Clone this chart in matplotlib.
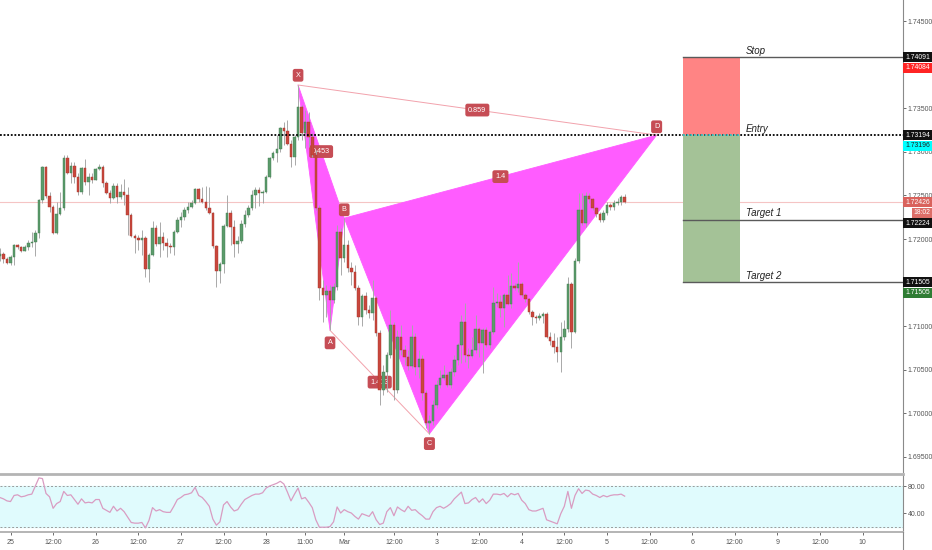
import numpy as np
import matplotlib
matplotlib.use("Agg")
import matplotlib.pyplot as plt
from matplotlib.patches import Polygon, Rectangle
from matplotlib.transforms import blended_transform_factory

plt.rcParams["font.family"] = ["Liberation Sans", "DejaVu Sans"]

# hourly candles, index 0 = 25 Feb 00:00 (weekend hours skipped)
first_hour = -3
first_open = 1.7180
closes = [
    1.7183, 1.7177, 1.7172, 1.7179, 1.7193, 1.7191, 1.7186, 1.7191, 1.7195, 1.7196,
    1.7207, 1.7245, 1.7283, 1.7249, 1.7237, 1.7207, 1.7229, 1.7236, 1.7293, 1.7276,
    1.7284, 1.7271, 1.7254, 1.7282, 1.7266, 1.7271, 1.7268, 1.7281, 1.7283, 1.7264,
    1.7253, 1.7247, 1.7261, 1.7248, 1.7254, 1.7251, 1.7228, 1.7203, 1.7201, 1.7199,
    1.7201, 1.7166, 1.7182, 1.7213, 1.7194, 1.7202, 1.7195, 1.7192, 1.7191, 1.7208,
    1.7222, 1.7225, 1.7233, 1.7237, 1.7241, 1.7257, 1.7246, 1.7243, 1.7236, 1.7230,
    1.7192, 1.7163, 1.7171, 1.7215, 1.7230, 1.7214, 1.7194, 1.7198, 1.7217, 1.7228,
    1.7236, 1.7251, 1.7256, 1.7253, 1.7254, 1.7271, 1.7293, 1.7299, 1.7303, 1.7328,
    1.7324, 1.7309, 1.7294, 1.7317, 1.7352, 1.7322, 1.7334, 1.7317, 1.7297, 1.7236,
    1.7144, 1.7136, 1.7140, 1.7130, 1.7145, 1.7208, 1.7178, 1.7193, 1.7167, 1.7162,
    1.7144, 1.7110, 1.7134, 1.7118, 1.7115, 1.7132, 1.7092, 1.7026, 1.7047, 1.7067,
    1.7101, 1.7026, 1.7087, 1.7072, 1.7064, 1.7054, 1.7087, 1.7053, 1.7062, 1.7023,
    1.6989, 1.6991, 1.7009, 1.7032, 1.7040, 1.7044, 1.7032, 1.7047, 1.7061, 1.7078,
    1.7105, 1.7067, 1.7066, 1.7072, 1.7097, 1.7080, 1.7095, 1.7078, 1.7093, 1.7126,
    1.7128, 1.7121, 1.7136, 1.7125, 1.7146, 1.7144, 1.7148, 1.7136, 1.7131, 1.7116,
    1.7110, 1.7109, 1.7111, 1.7114, 1.7087, 1.7083, 1.7076, 1.7070, 1.7087, 1.7097,
    1.7148, 1.7093, 1.7175, 1.7233, 1.7218, 1.7249, 1.7246, 1.7236, 1.7229, 1.7222,
    1.7230, 1.7239, 1.7237, 1.7241, 1.7242, 1.7248, 1.72426,
]
highs = [
    1.7190, 1.7185, 1.7179, 1.7182, 1.7194, 1.7194, 1.7192, 1.7193, 1.7199, 1.7208,
    1.7210, 1.7246, 1.7284, 1.7284, 1.7254, 1.7239, 1.7243, 1.7254, 1.7297, 1.7297,
    1.7289, 1.7289, 1.7276, 1.7283, 1.7292, 1.7276, 1.7276, 1.7282, 1.7286, 1.7285,
    1.7267, 1.7256, 1.7264, 1.7264, 1.7263, 1.7269, 1.7260, 1.7230, 1.7206, 1.7205,
    1.7210, 1.7203, 1.7184, 1.7221, 1.7216, 1.7220, 1.7208, 1.7201, 1.7195, 1.7210,
    1.7225, 1.7231, 1.7237, 1.7243, 1.7245, 1.7259, 1.7259, 1.7260, 1.7261, 1.7260,
    1.7231, 1.7193, 1.7174, 1.7217, 1.7251, 1.7233, 1.7222, 1.7203, 1.7222, 1.7233,
    1.7239, 1.7256, 1.7260, 1.7260, 1.7256, 1.7274, 1.7294, 1.7301, 1.7320, 1.7329,
    1.7334, 1.7337, 1.7314, 1.7320, 1.7377, 1.7354, 1.7348, 1.7346, 1.7322, 1.7302,
    1.7239, 1.7153, 1.7147, 1.7147, 1.7149, 1.7216, 1.7213, 1.7224, 1.7199, 1.7174,
    1.7170, 1.7147, 1.7137, 1.7139, 1.7124, 1.7153, 1.7134, 1.7095, 1.7055, 1.7070,
    1.7118, 1.7105, 1.7095, 1.7101, 1.7078, 1.7072, 1.7101, 1.7092, 1.7072, 1.7067,
    1.7026, 1.6998, 1.7015, 1.7038, 1.7049, 1.7055, 1.7047, 1.7052, 1.7067, 1.7080,
    1.7113, 1.7126, 1.7075, 1.7087, 1.7113, 1.7099, 1.7098, 1.7099, 1.7095, 1.7145,
    1.7138, 1.7136, 1.7138, 1.7159, 1.7161, 1.7149, 1.7174, 1.7151, 1.7138, 1.7132,
    1.7118, 1.7113, 1.7115, 1.7116, 1.7116, 1.7093, 1.7092, 1.7087, 1.7105, 1.7107,
    1.7156, 1.7151, 1.7178, 1.7253, 1.7253, 1.7254, 1.7253, 1.7247, 1.7237, 1.7231,
    1.7233, 1.7243, 1.7241, 1.7245, 1.7247, 1.7251, 1.7252,
]
lows = [
    1.7175, 1.7172, 1.7171, 1.7170, 1.7170, 1.7189, 1.7185, 1.7186, 1.7187, 1.7191,
    1.7180, 1.7201, 1.7241, 1.7247, 1.7231, 1.7206, 1.7206, 1.7228, 1.7233, 1.7275,
    1.7264, 1.7264, 1.7251, 1.7252, 1.7262, 1.7251, 1.7264, 1.7268, 1.7279, 1.7260,
    1.7252, 1.7241, 1.7246, 1.7241, 1.7246, 1.7239, 1.7205, 1.7202, 1.7184, 1.7187,
    1.7182, 1.7156, 1.7151, 1.7180, 1.7192, 1.7179, 1.7187, 1.7179, 1.7184, 1.7182,
    1.7207, 1.7214, 1.7222, 1.7230, 1.7236, 1.7240, 1.7243, 1.7241, 1.7233, 1.7229,
    1.7190, 1.7145, 1.7149, 1.7161, 1.7214, 1.7193, 1.7179, 1.7184, 1.7195, 1.7214,
    1.7225, 1.7233, 1.7236, 1.7238, 1.7241, 1.7253, 1.7270, 1.7291, 1.7289, 1.7300,
    1.7308, 1.7308, 1.7283, 1.7285, 1.7314, 1.7314, 1.7305, 1.7306, 1.7294, 1.7233,
    1.7130, 1.7105, 1.7110, 1.7095, 1.7126, 1.7141, 1.7159, 1.7174, 1.7162, 1.7147,
    1.7141, 1.7101, 1.7100, 1.7114, 1.7109, 1.7107, 1.7089, 1.7009, 1.7021, 1.7024,
    1.7063, 1.7015, 1.7023, 1.7067, 1.7055, 1.7049, 1.7052, 1.7044, 1.7040, 1.7015,
    1.6983, 1.6976, 1.6986, 1.7006, 1.7029, 1.7038, 1.7030, 1.7029, 1.7043, 1.7055,
    1.7057, 1.7059, 1.7052, 1.7063, 1.7069, 1.7064, 1.7046, 1.7076, 1.7075, 1.7091,
    1.7122, 1.7110, 1.7099, 1.7124, 1.7121, 1.7141, 1.7139, 1.7133, 1.7128, 1.7114,
    1.7101, 1.7103, 1.7107, 1.7103, 1.7086, 1.7078, 1.7069, 1.7059, 1.7047, 1.7084,
    1.7093, 1.7075, 1.7092, 1.7172, 1.7216, 1.7214, 1.7241, 1.7233, 1.7225, 1.7220,
    1.7220, 1.7228, 1.7233, 1.7233, 1.7239, 1.7239, 1.7241,
]
rsi = [
    63, 61, 58, 57, 66, 67, 64, 65, 67, 68,
    80, 92, 91, 69, 64, 47, 54, 57, 72, 66,
    67, 60, 53, 61, 55, 56, 55, 60, 60, 47,
    44, 41, 50, 43, 47, 42, 34, 26, 25, 25,
    26, 18, 29, 48, 43, 45, 42, 41, 41, 50,
    60, 63, 67, 68, 70, 78, 66, 63, 57, 50,
    31, 22, 27, 52, 57, 49, 43, 45, 53, 60,
    63, 66, 68, 68, 70, 77, 80, 82, 84, 87,
    83, 71, 58, 68, 77, 61, 63, 56, 48, 30,
    19, 19, 19, 20, 27, 49, 40, 45, 42, 40,
    35, 31, 39, 37, 35, 42, 30, 23, 25, 42,
    48, 36, 49, 45, 42, 50, 44, 45, 40, 36,
    31, 31, 42, 48, 50, 47, 50, 54, 61, 66,
    71, 54, 55, 60, 63, 56, 61, 54, 59, 68,
    68, 67, 69, 64, 69, 67, 69, 59, 54, 45,
    43, 43, 45, 47, 30, 28, 26, 24, 39, 50,
    72, 47, 66, 76, 69, 74, 73, 68, 66, 63,
    66, 64, 66, 67, 67, 68, 65,
]
assert len(closes) == len(highs) == len(lows) == len(rsi)

time_ticks = [0, 12, 24, 36, 48, 60, 72, 83, 94, 108, 120, 132, 144, 156,
              168, 180, 192, 204, 216, 228, 240]
time_labels = ["25", "12:00", "26", "12:00", "27", "12:00", "28", "11:00", "Mar",
               "12:00", "3", "12:00", "4", "12:00", "5", "12:00", "6", "12:00",
               "9", "12:00", "10"]

# cypher pattern
point_names = ["X", "A", "B", "C", "D"]
point_hours = [81, 90, 94, 118, 182]
point_prices = [1.7377, 1.7095, 1.7224, 1.6976, 1.73194]
ratio_legs = [("X", "B", "0.453"), ("A", "C", "1.413"), ("B", "D", "1.4"), ("X", "D", "0.859")]

# long position tool
stop_price = 1.74091
entry_price = 1.73194
target1_price = 1.72224
target2_price = 1.71505
last_price = 1.72426
box_hours = (189.4, 205.5)
level_names = ["Stop", "Entry", "Target 1", "Target 2"]
level_prices = [stop_price, entry_price, target1_price, target2_price]

# 1.740 and 1.715 sit under the price tags, so they are not labelled
price_ticks = [1.695, 1.700, 1.705, 1.710, 1.720, 1.725, 1.730, 1.735, 1.745]
rsi_ticks = [40, 80]

# right-hand price tags: text, value, background, text colour
tag_texts = ["1.74091", "1.74084", "1.73194", "1.73196", "1.72426", "18:02", "1.72224", "1.71505", "1.71505"]
tag_values = [1.74091, 1.74084, 1.73194, 1.73196, 1.72426, 1.72426, 1.72224, 1.71505, 1.71505]
tag_colors = ["#111111", "#ff2424", "#111111", "#00ffff", "#d9625c", "#dd6e68", "#111111", "#111111", "#2f7d34"]
tag_text_colors = ["white", "white", "white", "#222222", "white", "white", "white", "white", "white"]

W, H = 932, 550
fig = plt.figure(figsize=(W / 100, H / 100), dpi=100)
ax = fig.add_axes([0, 1 - 472 / H, 903 / W, 472 / H])
ax_rsi = fig.add_axes([0, 1 - 532 / H, 903 / W, 58 / H], sharex=ax)

xlim = (-2.96, 251.4)
ylim = (1.69322, 1.74747)
ax.set_xlim(*xlim)
ax.set_ylim(*ylim)
ax_rsi.set_ylim(11.9, 97.8)
data_per_px = (ylim[1] - ylim[0]) / 472

hours = np.arange(first_hour, first_hour + len(closes))
c = np.array(closes)
o = np.r_[first_open, c[:-1]]
hi = np.maximum(np.array(highs), np.maximum(o, c))
lo = np.minimum(np.array(lows), np.minimum(o, c))
up = c >= o

# faint last-price line and entry dotted line
ax.axhline(last_price, color="#f5c4c4", lw=0.8, zorder=1)
ax.axhline(entry_price, color="black", lw=1.3, ls=(0, (1, 1)), zorder=6)

# pattern
pts = dict(zip(point_names, zip(point_hours, point_prices)))
fill_col = "#ff5cff"
for tri in (("X", "A", "B"), ("B", "C", "D")):
    ax.add_patch(Polygon([pts[k] for k in tri], closed=True, facecolor=fill_col,
                         edgecolor=fill_col, lw=0.6, zorder=1.5))
for a, b in (("X", "D"), ("A", "C")):
    ax.plot([pts[a][0], pts[b][0]], [pts[a][1], pts[b][1]], color="#f2a2ac", lw=0.7, zorder=1.6)

lab_box = dict(boxstyle="round,pad=0.4,rounding_size=0.3", facecolor="#c64d55", edgecolor="none")
for a, b, txt in ratio_legs:
    mx = (pts[a][0] + pts[b][0]) / 2
    my = (pts[a][1] + pts[b][1]) / 2
    ax.text(mx, my, txt, fontsize=5.2, color="white", ha="center", va="center",
            bbox=lab_box, zorder=2)

offsets = {"X": 7, "A": -9, "B": 6, "C": -7, "D": 6}
for name in point_names:
    ax.annotate(name, pts[name], xytext=(0, offsets[name]), textcoords="offset points",
                fontsize=5.2, color="white", ha="center", va="center", bbox=lab_box, zorder=6)

# candles
ax.vlines(hours, lo, hi, color="#a9a9a9", lw=0.7, zorder=3)
body_bottom = np.minimum(o, c)
body_height = np.maximum(np.abs(c - o), 0.9 * data_per_px)
ax.bar(hours[up], body_height[up], bottom=body_bottom[up], width=0.7,
       color="#5c9b6b", edgecolor="#3f7b4f", lw=0.3, zorder=4)
ax.bar(hours[~up], body_height[~up], bottom=body_bottom[~up], width=0.7,
       color="#c9473d", edgecolor="#a6352c", lw=0.3, zorder=4)

# position tool
b0, b1 = box_hours
ax.add_patch(Rectangle((b0, entry_price), b1 - b0, stop_price - entry_price,
                       facecolor="#ff8484", edgecolor="none", zorder=2))
ax.add_patch(Rectangle((b0, target2_price), b1 - b0, entry_price - target2_price,
                       facecolor="#a4c297", edgecolor="none", zorder=2))
ax.plot([b0, b1], [entry_price, entry_price], color="#3fd3d3", lw=1.3, ls=(0, (1, 1)), zorder=7)
for p in (stop_price, target1_price, target2_price):
    ax.plot([b0, xlim[1]], [p, p], color="#5a5a5a", lw=1.0, zorder=5)
for name, p in zip(level_names, level_prices):
    ax.annotate(name, (b1, p), xytext=(4, 1.0), textcoords="offset points",
                fontsize=7, style="italic", color="#222222", ha="left", va="bottom", zorder=7)

# axes styling
for s in ("top", "left", "bottom"):
    ax.spines[s].set_visible(False)
ax.spines["right"].set_color("#8a8a8a")
ax.spines["right"].set_linewidth(0.8)
ax.yaxis.tick_right()
ax.set_yticks(price_ticks, [f"{t:.5f}" for t in price_ticks])
ax.tick_params(axis="y", labelsize=5.0, colors="#555555", length=2, width=0.6, pad=1.5)
ax.tick_params(axis="x", bottom=False, labelbottom=False)

# right side price tags, stacked so they do not overlap
tag_h = 10.5 * data_per_px
blend = blended_transform_factory(ax.transAxes, ax.transData)
prev = None
for txt, val, bg, fg in zip(tag_texts, tag_values, tag_colors, tag_text_colors):
    yc = val
    if prev is not None and prev - yc < tag_h:
        yc = prev - tag_h
    prev = yc
    x0 = 1.0 + (9 / 903 if ":" in txt else 0)
    ax.add_patch(Rectangle((x0, yc - tag_h / 2), 1.0 + 29 / 903 - x0, tag_h * 0.95,
                           transform=blend, facecolor=bg, edgecolor="none",
                           clip_on=False, zorder=10))
    ax.text((x0 + 1.0 + 29 / 903) / 2, yc - tag_h * 0.02, txt, transform=blend,
            fontsize=4.9, color=fg, ha="center", va="center", clip_on=False, zorder=11)

# RSI panel
ax_rsi.axhspan(20, 80, color="#e0fbfd", zorder=0)
ax_rsi.axhline(80, color="#9a9a9a", lw=0.7, ls=(0, (2, 2)), zorder=1)
ax_rsi.axhline(20, color="#9a9a9a", lw=0.7, ls=(0, (2, 2)), zorder=1)
ax_rsi.plot(hours, rsi, color="#d99cc2", lw=0.9, zorder=2)
ax_rsi.spines["left"].set_visible(False)
ax_rsi.spines["top"].set_color("#b4b4b4")
ax_rsi.spines["top"].set_linewidth(2.0)
ax_rsi.spines["bottom"].set_color("#b4b4b4")
ax_rsi.spines["bottom"].set_linewidth(1.4)
ax_rsi.spines["right"].set_color("#8a8a8a")
ax_rsi.spines["right"].set_linewidth(0.8)
ax_rsi.yaxis.tick_right()
ax_rsi.set_yticks(rsi_ticks, [f"{t:.2f}" for t in rsi_ticks])
ax_rsi.tick_params(axis="y", labelsize=5.0, colors="#555555", length=2, width=0.6, pad=1.5)
ax_rsi.set_xticks(time_ticks, time_labels)
ax_rsi.tick_params(axis="x", labelsize=5.0, colors="#555555", length=2, width=0.6, pad=3)

# right axis line down to the bottom of the figure
fig.add_artist(plt.Line2D([903 / W, 903 / W], [0, 1 - 532 / H], color="#8a8a8a", lw=0.8))

fig.savefig("out.png", dpi=100)
